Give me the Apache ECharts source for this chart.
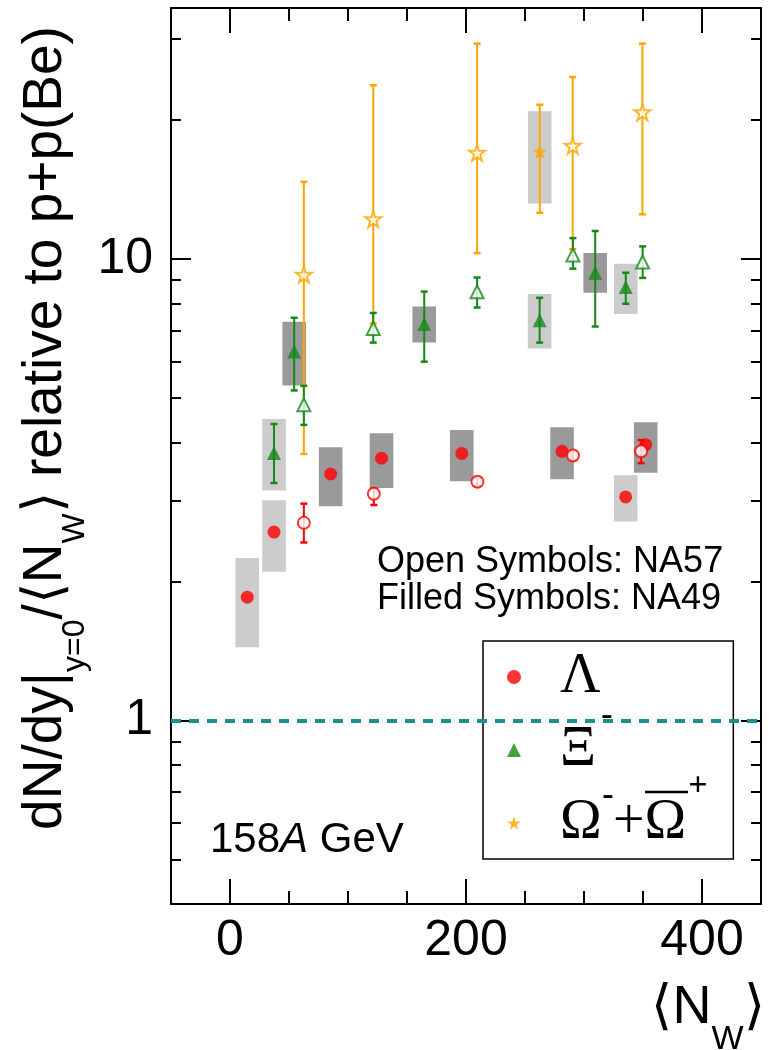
<!DOCTYPE html>
<html>
<head>
<meta charset="utf-8">
<script src="https://cdn.jsdelivr.net/npm/echarts@6/dist/echarts.min.js"></script>
<style>
html,body{margin:0;padding:0;background:#fff;}
#chart{width:769px;height:1050px;}
</style>
</head>
<body>
<div id="chart"></div>
<script>
// ---------------- DATA ----------------
// NA49 (filled symbols): [<Nw>, value, sysLow, sysHigh, statLow, statHigh]
// set A : dark systematic boxes, set B : light systematic boxes
const lambdaNA49A = [
  [85.3, 3.42, 2.91, 3.91],
  [128.4, 3.70, 3.19, 4.19],
  [196.4, 3.79, 3.30, 4.26],
  [281.4, 3.83, 3.33, 4.32],
  [352.3, 3.96, 3.44, 4.43]
];
const lambdaNA49B = [
  [14.6, 1.85, 1.44, 2.25],
  [37.3, 2.56, 2.10, 3.00],
  [335.3, 3.05, 2.70, 3.40]
];
const xiNA49A = [
  [54.4, 6.30, 5.32, 7.31, 5.19, 7.46],
  [164.6, 7.23, 6.59, 7.89, 5.99, 8.50],
  [309.5, 9.34, 8.45, 10.3, 7.14, 11.5]
];
const xiNA49B = [
  [37.3, 3.80, 3.15, 4.50, 3.27, 4.39],
  [262.4, 7.37, 6.40, 8.40, 6.59, 8.24],
  [335.4, 8.70, 7.60, 9.77, 8.00, 9.34]
];
const omegaNA49B = [
  [262.5, 17.1, 13.2, 20.9, 12.6, 21.6]
];
// NA57 (open symbols): [<Nw>, value, statLow, statHigh]
const lambdaNA57 = [
  [62.6, 2.68, 2.43, 2.95],
  [121.9, 3.10, 2.93, 3.18],
  [209.7, 3.29, 3.22, 3.36],
  [290.7, 3.75, 3.67, 3.83],
  [348.4, 3.83, 3.61, 4.05]
];
const xiNA57 = [
  [62.6, 4.83, 4.37, 5.31],
  [121.4, 7.07, 6.59, 7.64],
  [209.4, 8.49, 7.85, 9.12],
  [290.6, 10.2, 9.53, 11.1],
  [349.7, 9.85, 9.10, 10.65]
];
const omegaNA57 = [
  [62.6, 9.25, 3.78, 14.7],
  [121.4, 12.2, 7.25, 23.8],
  [209.4, 17.0, 10.3, 29.3],
  [290.4, 17.6, 10.5, 24.8],
  [349.5, 20.8, 12.5, 29.3]
];
// axis ticks
const xMajorTicks = [0, 200, 400];
const xMinorTicks = [50, 100, 150, 250, 300, 350];
const yMajorTicks = [1, 10];
const yMinorTicks = [0.5, 0.6, 0.7, 0.8, 0.9, 2, 3, 4, 5, 6, 7, 8, 9, 20, 30];
const referenceLevel = 1;

// ---------------- STYLE ----------------
const RED = '#ff0000', GREEN = '#168a16', ORANGE = '#ffa500';
const DARK = '#9a9a9a', LIGHT = '#cccccc';
const SANS = '"Liberation Sans", Arial, Helvetica, sans-serif';
const SERIF = '"Liberation Serif", "Times New Roman", serif';
const STAR = 'path://M50,2 L61.2,36.5 L97.6,36.5 L68.2,57.9 L79.4,92.5 L50,71.1 L20.6,92.5 L31.8,57.9 L2.4,36.5 L38.8,36.5 Z';
const BOX_HALF = 10;   // half width of systematic box in <Nw> units
const CAP = 3.5;       // half width of error-bar caps (px)

function boxRender(fill, loDim, hiDim) {
  return function (params, api) {
    const x = api.value(0);
    const p1 = api.coord([x - BOX_HALF, api.value(hiDim)]);
    const p2 = api.coord([x + BOX_HALF, api.value(loDim)]);
    return { type: 'rect', shape: { x: p1[0], y: p1[1], width: p2[0] - p1[0], height: p2[1] - p1[1] },
             style: { fill: fill } };
  };
}
function errRender(color, loDim, hiDim) {
  return function (params, api) {
    const x = api.value(0);
    const t = api.coord([x, api.value(hiDim)]);
    const b = api.coord([x, api.value(loDim)]);
    return { type: 'group', children: [
      { type: 'line', shape: { x1: t[0], y1: t[1], x2: b[0], y2: b[1] }, style: { stroke: color, lineWidth: 2 } },
      { type: 'line', shape: { x1: t[0] - CAP, y1: t[1], x2: t[0] + CAP, y2: t[1] }, style: { stroke: color, lineWidth: 2.5 } },
      { type: 'line', shape: { x1: b[0] - CAP, y1: b[1], x2: b[0] + CAP, y2: b[1] }, style: { stroke: color, lineWidth: 2.5 } }
    ]};
  };
}
function boxSeries(data, fill) {
  return { type: 'custom', data: data, encode: { x: 0, y: 1 }, renderItem: boxRender(fill, 2, 3), silent: true, z: 1 };
}
function errSeries(data, color, lo, hi) {
  return { type: 'custom', data: data, encode: { x: 0, y: 1 }, renderItem: errRender(color, lo, hi), silent: true, z: 2 };
}

const axisLineStyle = { show: true, onZero: false, lineStyle: { color: '#000', width: 2 } };
function xAx(pos, ticks, len, labels) {
  return {
    type: 'value', position: pos, min: -50, max: 450, interval: 50,
    axisLine: axisLineStyle, splitLine: { show: false },
    axisTick: { show: true, inside: true, length: len, customValues: ticks, lineStyle: { color: '#000', width: 2 } },
    axisLabel: labels ? { show: true, customValues: ticks, fontSize: 50, fontFamily: SANS, color: '#000', margin: 12 } : { show: false }
  };
}
function yAx(pos, ticks, len, labels) {
  return {
    type: 'log', logBase: 10, position: pos, min: 0.4, max: 35,
    axisLine: axisLineStyle, splitLine: { show: false }, minorTick: { show: false },
    axisTick: { show: true, inside: true, length: len, customValues: ticks, lineStyle: { color: '#000', width: 2 } },
    axisLabel: labels ? { show: true, customValues: ticks, fontSize: 50, fontFamily: SANS, color: '#000', margin: 18 } : { show: false }
  };
}

// legend labels: the superscript slots only reserve room, the raised
// superscripts themselves are drawn as separate text elements below
const legendLabels = {
  'Λ': '{g|Λ}',
  'Ξ': '{g|Ξ}{sup|-}',
  'Ω': '{g|Ω}{sup|-}{g|+Ω}{sup|+}'
};
const supStyle = { fontFamily: SERIF, fontSize: 34, fontWeight: 'bold', fill: '#000', align: 'center', verticalAlign: 'middle' };

const chart = echarts.init(document.getElementById('chart'), null, { renderer: 'canvas' });
chart.setOption({
  animation: false,
  backgroundColor: '#fff',
  grid: { left: 171, right: 8, top: 8, bottom: 146, containLabel: false },
  xAxis: [
    xAx('bottom', xMajorTicks, 25, true),
    xAx('bottom', xMinorTicks, 13, false),
    xAx('top', xMajorTicks, 25, false),
    xAx('top', xMinorTicks, 13, false)
  ],
  yAxis: [
    yAx('left', yMajorTicks, 20, true),
    yAx('left', yMinorTicks, 10, false),
    yAx('right', yMajorTicks, 20, false),
    yAx('right', yMinorTicks, 10, false)
  ],
  legend: {
    data: ['Λ', 'Ξ', 'Ω'],
    orient: 'vertical', left: 483, top: 641,
    padding: [0, 28, 0, 24],
    itemGap: 1, itemWidth: 14, itemHeight: 14,
    backgroundColor: '#fff', borderColor: '#000', borderWidth: 1.5,
    selectedMode: false,
    formatter: function (name) { return legendLabels[name]; },
    textStyle: {
      color: '#000', fontFamily: SERIF, fontSize: 56, lineHeight: 72,
      rich: {
        g: { fontFamily: SERIF, fontSize: 56, lineHeight: 72 },
        sup: { fontFamily: SERIF, fontSize: 34, color: 'rgba(0,0,0,0)' }
      },
      padding: [0, 0, 0, 34]
    }
  },
  graphic: [
    { type: 'text', x: 46, y: 428, rotation: Math.PI / 2,
      style: { text: '{m|dN/dy|}{s|y=0}{m|/⟨N}{s|W}{m|⟩ relative to p+p(Be)}', align: 'center', verticalAlign: 'middle', fill: '#000',
        rich: { m: { fontSize: 55, fontFamily: SANS, lineHeight: 76 }, s: { fontSize: 32, fontFamily: SANS, lineHeight: 18, height: 18, verticalAlign: 'bottom' } } } },
    { type: 'text', x: 708, y: 1008,
      style: { text: '{m|⟨N}{s|W}{m|⟩}', align: 'center', verticalAlign: 'middle', fill: '#000',
        rich: { m: { fontSize: 54, fontFamily: SANS, lineHeight: 76 }, s: { fontSize: 34, fontFamily: SANS, lineHeight: 12, height: 12, verticalAlign: 'bottom' } } } },
    { type: 'text', x: 377, y: 562, style: { text: 'Open Symbols: NA57', fontSize: 36, fontFamily: SANS, fill: '#000', align: 'left', verticalAlign: 'middle' } },
    { type: 'text', x: 377, y: 599, style: { text: 'Filled Symbols: NA49', fontSize: 36, fontFamily: SANS, fill: '#000', align: 'left', verticalAlign: 'middle' } },
    { type: 'text', x: 210, y: 840,
      style: { text: '{n|158}{i|A}{n| GeV}', align: 'left', verticalAlign: 'middle', fill: '#000',
        rich: { n: { fontSize: 42, fontFamily: SANS }, i: { fontSize: 42, fontFamily: SANS, fontStyle: 'italic' } } } },
    // legend superscripts and the anti-Omega overline
    { type: 'text', z: 100, x: 607, y: 716, style: Object.assign({ text: '-' }, supStyle) },
    { type: 'text', z: 100, x: 608, y: 796, style: Object.assign({ text: '-' }, supStyle) },
    { type: 'text', z: 100, x: 698, y: 786, style: Object.assign({ text: '+' }, supStyle) },
    { type: 'line', z: 100, shape: { x1: 645, y1: 792, x2: 688, y2: 792 }, style: { stroke: '#000', lineWidth: 2.5 } }
  ],
  series: [
    boxSeries(lambdaNA49A, DARK),
    boxSeries(lambdaNA49B, LIGHT),
    boxSeries(xiNA49A, DARK),
    boxSeries(xiNA49B, LIGHT),
    boxSeries(omegaNA49B, LIGHT),
    errSeries(omegaNA57, ORANGE, 2, 3),
    errSeries(omegaNA49B, ORANGE, 4, 5),
    errSeries(xiNA49A, GREEN, 4, 5),
    errSeries(xiNA49B, GREEN, 4, 5),
    errSeries(xiNA57, GREEN, 2, 3),
    errSeries(lambdaNA57, RED, 2, 3),
    { name: 'Λ', type: 'scatter', data: lambdaNA49A.concat(lambdaNA49B), symbol: 'circle', symbolSize: 13,
      itemStyle: { color: RED }, z: 3,
      markLine: { silent: true, symbol: ['none', 'none'], label: { show: false },
        lineStyle: { type: [10, 8], color: '#1f8f8f', width: 4 }, data: [{ yAxis: referenceLevel }] } },
    { name: 'Ξ', type: 'scatter', data: xiNA49A.concat(xiNA49B), symbol: 'triangle', symbolSize: 14,
      itemStyle: { color: GREEN }, z: 3 },
    { name: 'Ω', type: 'scatter', data: omegaNA49B, symbol: STAR, symbolSize: 15,
      itemStyle: { color: ORANGE }, z: 3 },
    { name: 'Λ NA57', type: 'scatter', data: lambdaNA57, symbol: 'circle', symbolSize: 12,
      itemStyle: { color: '#fff', borderColor: RED, borderWidth: 2 }, z: 4 },
    { name: 'Ξ NA57', type: 'scatter', data: xiNA57, symbol: 'triangle', symbolSize: 13,
      itemStyle: { color: '#fff', borderColor: GREEN, borderWidth: 2 }, z: 4 },
    { name: 'Ω NA57', type: 'scatter', data: omegaNA57, symbol: STAR, symbolSize: 16,
      itemStyle: { color: '#fff', borderColor: ORANGE, borderWidth: 2 }, z: 4 }
  ]
});
</script>
</body>
</html>
